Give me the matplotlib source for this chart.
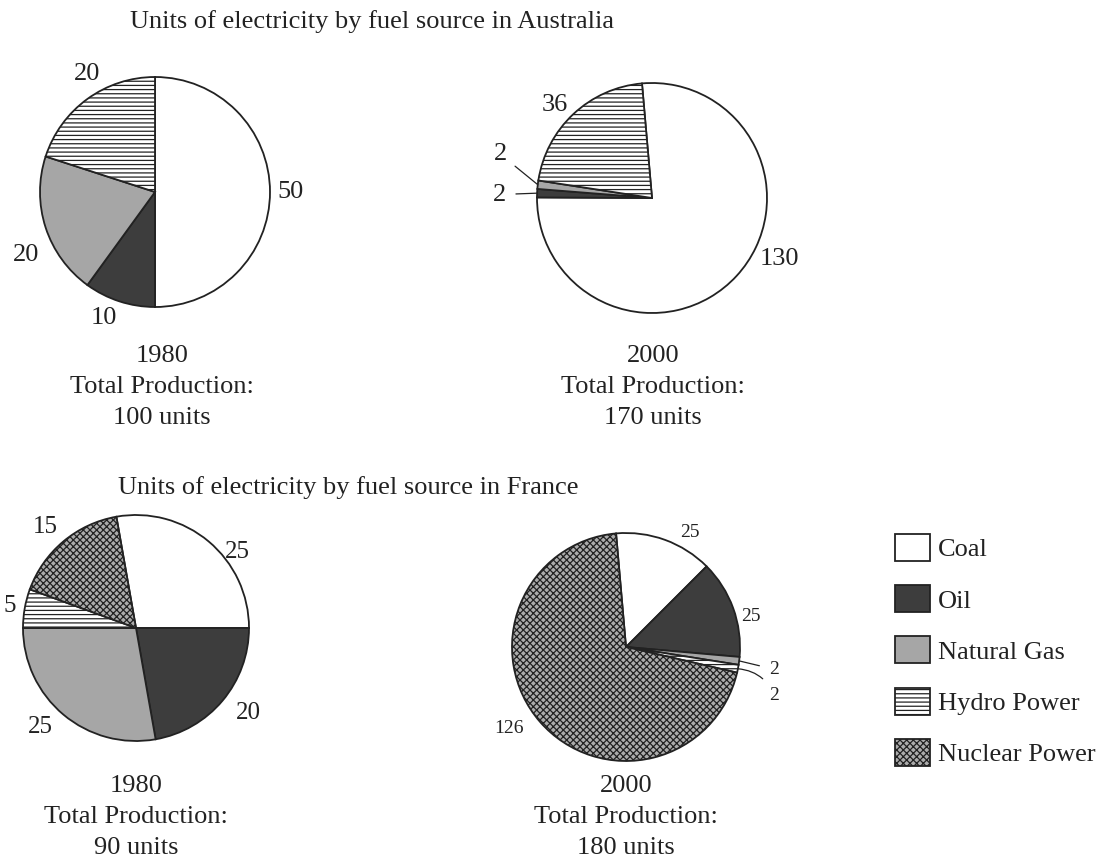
import matplotlib
matplotlib.use('Agg')
import matplotlib.pyplot as plt
from matplotlib.patches import Patch
import numpy as np

plt.rcParams['font.family'] = ['Liberation Serif', 'DejaVu Serif']
plt.rcParams['hatch.linewidth'] = 0.9

W, H = 1112, 863
INK = '#222222'

# fuel order: Coal, Oil, Natural Gas, Hydro Power, Nuclear Power
fuels = ['Coal', 'Oil', 'Natural Gas', 'Hydro Power', 'Nuclear Power']
fuel_colors = ['white', '#3d3d3d', '#a6a6a6', 'white', '#acacac']
fuel_hatches = ['', '', '', '----', 'xxxxx']

aus_1980 = [50, 10, 20, 20, 0]
aus_2000 = [130, 2, 2, 36, 0]
fra_1980 = [25, 20, 25, 5, 15]
fra_2000 = [25, 25, 2, 2, 126]

years = ['1980', '2000', '1980', '2000']
titles = ['Units of electricity by fuel source in Australia',
          'Units of electricity by fuel source in France']

fig = plt.figure(figsize=(W / 100, H / 100), dpi=100)


def draw_pie(vals, year, cx, cy, r, start, lab_r, lab_shift, leaders, fs, cap_x, cap_y):
    ax = fig.add_axes([(cx - r) / W, 1 - (cy + r) / H, 2 * r / W, 2 * r / H])
    idx = [i for i, v in enumerate(vals) if v > 0]
    wedges, _ = ax.pie([vals[i] for i in idx],
                       colors=[fuel_colors[i] for i in idx],
                       hatch=[fuel_hatches[i] for i in idx],
                       startangle=start, counterclock=False,
                       wedgeprops=dict(edgecolor=INK, linewidth=1.3))
    ax.set_xlim(-1, 1)
    ax.set_ylim(-1, 1)
    for k, (w, i) in enumerate(zip(wedges, idx)):
        w.set_clip_on(False)
        mid = np.deg2rad((w.theta1 + w.theta2) / 2)
        if i in leaders:
            dx, dy, rad = leaders[i]
            ax.annotate(str(vals[i]), xy=(np.cos(mid), np.sin(mid)),
                        xytext=(dx, dy), textcoords='offset points',
                        ha='center', va='center', fontsize=fs, color=INK,
                        arrowprops=dict(arrowstyle='-', lw=0.9, color=INK,
                                        shrinkA=5, shrinkB=0,
                                        connectionstyle=f'arc3,rad={rad}'),
                        annotation_clip=False)
        else:
            a = mid + np.deg2rad(lab_shift[k])
            ax.text(lab_r[k] * np.cos(a), lab_r[k] * np.sin(a), str(vals[i]),
                    ha='center', va='center', fontsize=fs, color=INK, clip_on=False)
    fig.text(cap_x / W, 1 - cap_y / H,
             f'{year}\nTotal Production:\n{sum(vals)} units',
             ha='center', va='center', fontsize=19, color=INK, linespacing=1.52)


# Australia
draw_pie(aus_1980, years[0], 155, 192, 115, 90,
         [1.18, 1.18, 1.25, 1.18], [0, -4, 8, -6], {}, 19, 162, 387)
draw_pie(aus_2000, years[1], 652, 198, 115, 95,
         [1.23, 1.17, 1.17, 1.17], [17, 0, 0, 3],
         {1: (-27, -1, 0), 2: (-27, 22, 0)}, 19, 653, 387)

# France
draw_pie(fra_1980, years[2], 136, 628, 113, 100,
         [1.12, 1.25, 1.22, 1.13, 1.2], [-13, 3, -4, 0, 2], {}, 18, 136, 817)
draw_pie(fra_2000, years[3], 626, 647, 114, 95,
         [1.15, 1.13, 1.2, 1.2, 1.25], [-9, -6.5, 0, 0, -6],
         {2: (25, -6, 0), 3: (26, -19, 0.3)}, 14, 626, 817)

fig.text(372 / W, 1 - 22 / H, titles[0], ha='center', va='center', fontsize=19, color=INK)
fig.text(348 / W, 1 - 488 / H, titles[1], ha='center', va='center', fontsize=19, color=INK)

handles = [Patch(facecolor=c, edgecolor=INK, hatch=h, linewidth=1.3)
           for c, h in zip(fuel_colors, fuel_hatches)]
fig.legend(handles, fuels, loc='upper left', bbox_to_anchor=(895 / W, 1 - 534 / H),
           frameon=False, fontsize=19, handlelength=1.33, handleheight=1.2,
           labelspacing=0.9, handletextpad=0.3, borderpad=0, borderaxespad=0,
           labelcolor=INK)

fig.savefig('out.png', dpi=100, facecolor='white')
